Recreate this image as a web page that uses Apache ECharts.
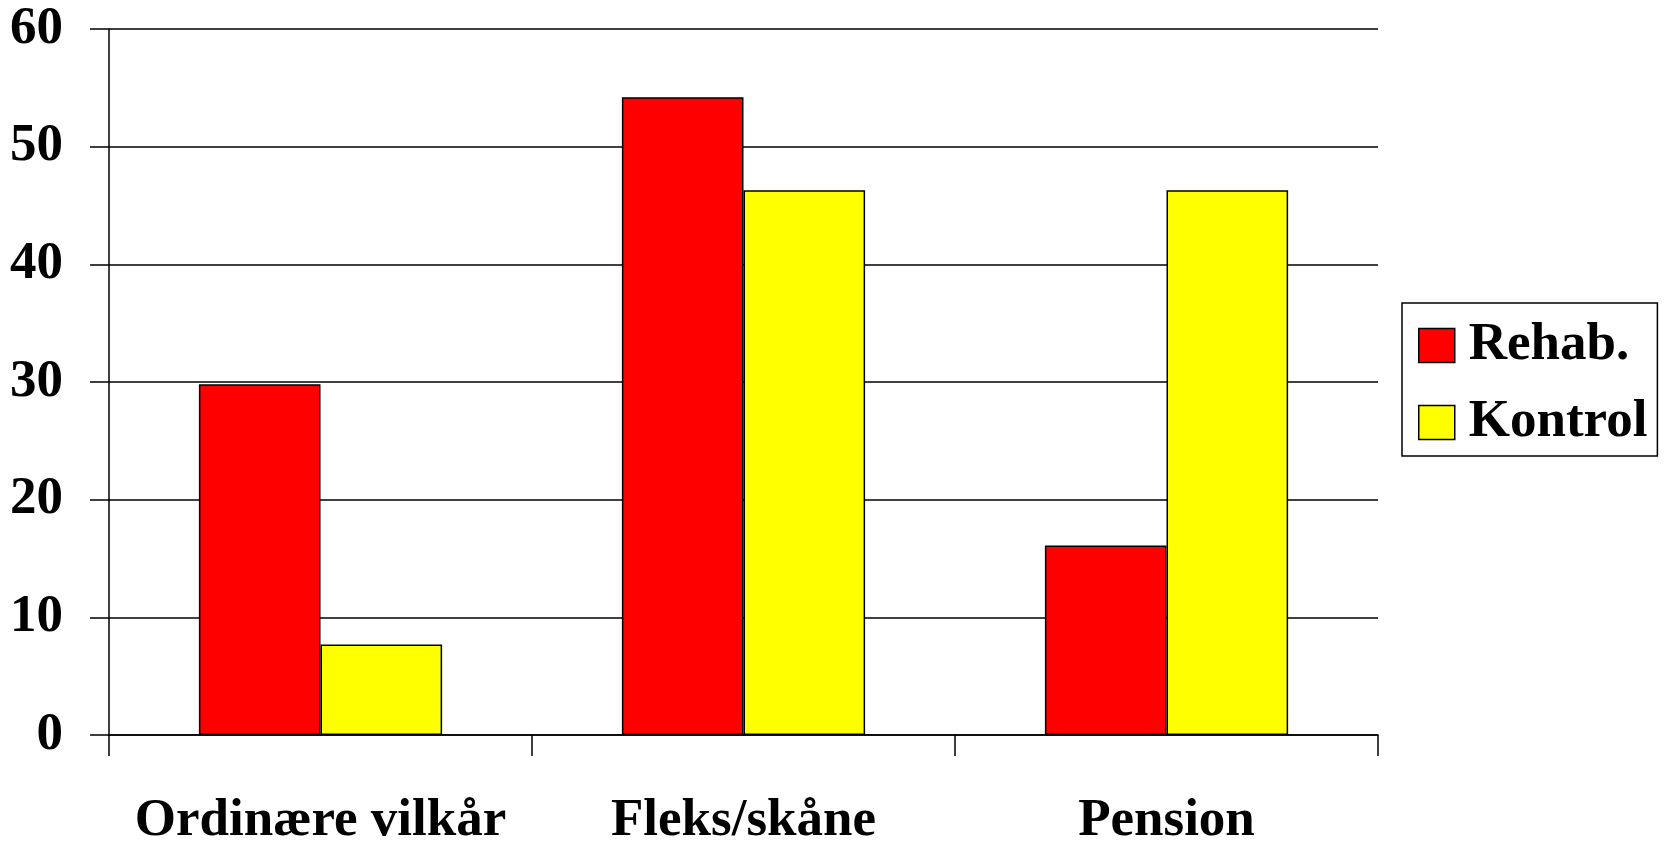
<!DOCTYPE html>
<html>
<head>
<meta charset="utf-8">
<script src="https://cdn.jsdelivr.net/npm/echarts@6/dist/echarts.min.js"></script>
<style>
  html, body { margin: 0; padding: 0; background: #fff; }
  #myChart { width: 1665px; height: 843px; }
</style>
</head>
<body>
<div id="myChart"></div>
<script>
// data
var categories = ['Ordinære vilkår', 'Fleks/skåne', 'Pension'];
var rehab = [29.8, 54.2, 16.1];
var kontrol = [7.7, 46.3, 46.3];
var yTicks = [0, 10, 20, 30, 40, 50, 60];

var font = 'Liberation Serif';

var myChart = echarts.init(document.getElementById('myChart'));
myChart.setOption({
    animation: false,
    textStyle: { fontFamily: font },
    grid: { left: 109, right: 287, top: 29, bottom: 108, outerBoundsMode: 'none', containLabel: false },
    legend: {
        data: ['Rehab.', 'Kontrol'],
        orient: 'vertical',
        left: 1402,
        top: 303,
        padding: [16, 10, 7, 16],
        itemGap: 24,
        itemWidth: 36,
        itemHeight: 34,
        icon: 'rect',
        borderColor: '#000',
        borderWidth: 1.5,
        borderRadius: 0,
        itemStyle: { borderColor: '#000', borderWidth: 1.5 },
        textStyle: { fontFamily: font, fontWeight: 'bold', fontSize: 53, color: '#000', padding: [0, 0, 0, 9] }
    },
    xAxis: {
        type: 'category',
        data: categories,
        axisLine: { lineStyle: { color: '#000', width: 1.5 } },
        axisTick: { show: true, length: 21, interval: 0, lineStyle: { color: '#000', width: 1.5 } },
        axisLabel: { interval: 0, margin: 60, fontFamily: font, fontWeight: 'bold', fontSize: 53, color: '#000' }
    },
    yAxis: {
        type: 'value',
        min: yTicks[0],
        max: yTicks[yTicks.length - 1],
        interval: 10,
        axisLine: { show: true, lineStyle: { color: '#000', width: 1.5 } },
        axisTick: { show: true, length: 19, lineStyle: { color: '#000', width: 1.5 } },
        splitLine: { show: true, lineStyle: { color: '#000', width: 1.5 } },
        axisLabel: { margin: 46, fontFamily: font, fontWeight: 'bold', fontSize: 53, color: '#000' }
    },
    series: [
        {
            name: 'Rehab.',
            type: 'bar',
            data: rehab,
            barGap: '0%',
            barCategoryGap: '42.5%',
            itemStyle: { color: '#ff0000', borderColor: '#000', borderWidth: 1.5 }
        },
        {
            name: 'Kontrol',
            type: 'bar',
            data: kontrol,
            itemStyle: { color: '#ffff00', borderColor: '#000', borderWidth: 1.5 }
        }
    ]
});
</script>
</body>
</html>
